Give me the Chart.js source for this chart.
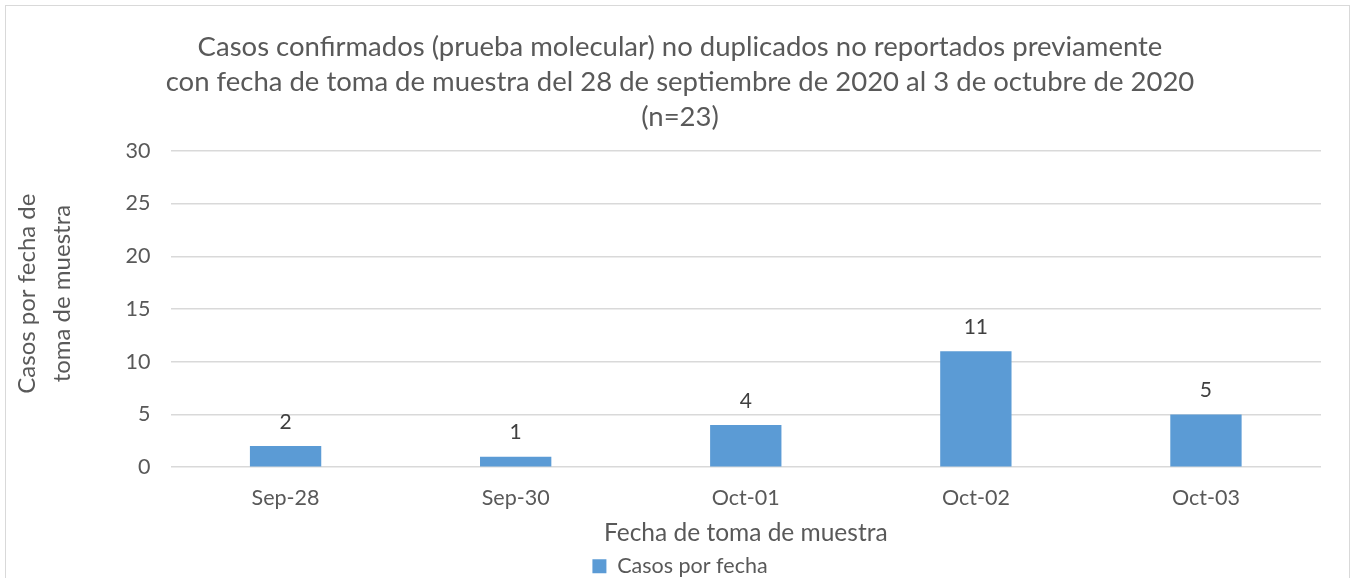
<!DOCTYPE html>
<html>
<head>
<meta charset="utf-8">
<script src="https://cdn.jsdelivr.net/npm/chart.js@4/dist/chart.umd.min.js"></script>
<style>
  html, body { margin: 0; padding: 0; background: #fff; overflow: hidden; }
  #frame { position: absolute; left: 5px; top: 5px; width: 1343px; height: 600px; border: 1px solid #d9d9d9; }
  #wrap { position: absolute; left: 0; top: 0; width: 1351px; height: 587px; }
</style>
</head>
<body>
<div id="frame"></div>
<div id="wrap"><canvas id="bar-chart"></canvas></div>
<script>
const categories = ['Sep-28', 'Sep-30', 'Oct-01', 'Oct-02', 'Oct-03'];
const casos = [2, 1, 4, 11, 5];
const yTicks = [0, 5, 10, 15, 20, 25, 30];

const titleLines = [
  'Casos confirmados (prueba molecular) no duplicados no reportados previamente',
  'con fecha de toma de muestra del 28 de septiembre de 2020 al 3 de octubre de 2020',
  '(n=23)'
];

const textColor = '#595959';
const fontFamily = 'Lato, "Open Sans", sans-serif';

// draws the value above each bar
const valueLabels = {
  id: 'valueLabels',
  afterDatasetsDraw(chart) {
    const ctx = chart.ctx;
    const meta = chart.getDatasetMeta(0);
    ctx.save();
    ctx.fillStyle = '#404040';
    ctx.font = '21px ' + fontFamily;
    ctx.textAlign = 'center';
    ctx.textBaseline = 'middle';
    meta.data.forEach((bar, i) => {
      ctx.fillText(String(casos[i]), bar.x, bar.y - 24);
    });
    ctx.restore();
  }
};

const ctx = document.getElementById('bar-chart').getContext('2d');
const chart = new Chart(ctx, {
  type: 'bar',
  data: {
    labels: categories,
    datasets: [
      {
        label: 'Casos por fecha',
        data: casos,
        backgroundColor: '#5b9bd5',
        borderWidth: 0,
        categoryPercentage: 1.0,
        barPercentage: 0.31,
      },
    ],
  },
  options: {
    responsive: true,
    maintainAspectRatio: false,
    animation: false,
    layout: { padding: { left: 10, right: 1, top: 30, bottom: 0 } },
    scales: {
      y: {
        min: 0,
        max: 30,
        afterBuildTicks: (scale) => { scale.ticks = yTicks.map(v => ({ value: v })); },
        border: { display: false },
        grid: { color: '#d9d9d9', lineWidth: 1.5, drawTicks: false },
        ticks: { color: textColor, font: { size: 21.5, family: fontFamily }, padding: 20 },
        title: {
          display: true,
          // leading spaces nudge the title up a little, like the original
          text: ['     Casos por fecha de', '     toma de muestra'],
          color: textColor,
          font: { size: 24, family: fontFamily, lineHeight: 1.45 },
          padding: { top: 0, bottom: 26 },
        },
      },
      // empty axis on the right, only keeps some room there
      yRight: {
        position: 'right',
        display: true,
        grid: { display: false },
        border: { display: false },
        ticks: { display: false },
        afterFit: (scale) => { scale.width = 29; },
      },
      x: {
        border: { display: false },
        grid: { display: false },
        ticks: { color: textColor, font: { size: 21.5, family: fontFamily }, padding: 10 },
        title: {
          display: true,
          text: 'Fecha de toma de muestra',
          color: textColor,
          font: { size: 24.5, family: fontFamily, lineHeight: 1.0 },
          padding: { top: 0, bottom: 6 },
        },
      },
    },
    plugins: {
      title: {
        display: true,
        text: titleLines,
        color: textColor,
        font: { size: 27.5, family: fontFamily, weight: 'normal', lineHeight: 1.27 },
        padding: { top: 0, bottom: 16 },
      },
      legend: {
        position: 'bottom',
        labels: {
          color: textColor,
          font: { size: 21.5, family: fontFamily },
          boxWidth: 14,
          boxHeight: 14,
          padding: 4,
        },
      },
      tooltip: { enabled: false },
    },
  },
  plugins: [valueLabels],
});
</script>
</body>
</html>
